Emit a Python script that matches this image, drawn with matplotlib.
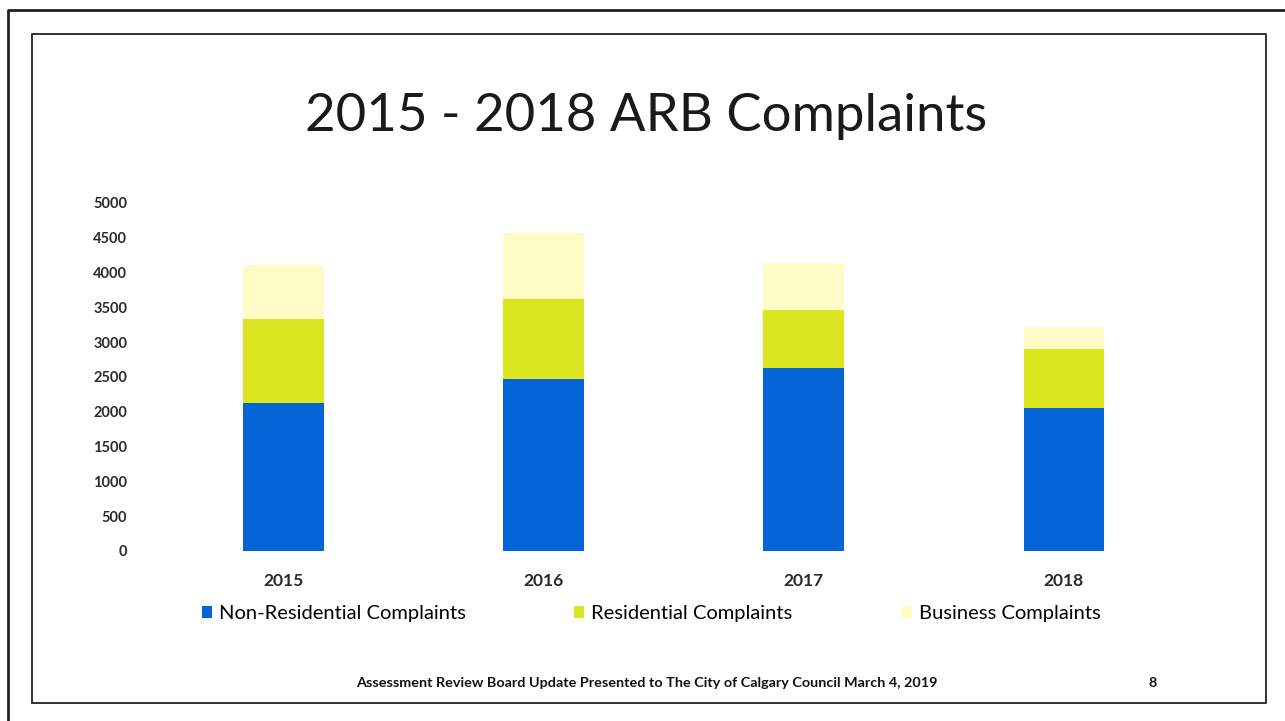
#!/usr/bin/env python3
"""Stacked bar chart: 2015 - 2018 ARB complaints by type."""

import matplotlib
matplotlib.use("Agg")
import matplotlib.pyplot as plt
from matplotlib.lines import Line2D
from matplotlib.patches import Patch
import numpy as np

years = ["2015", "2016", "2017", "2018"]
non_residential = [2120, 2475, 2630, 2050]
residential = [1220, 1145, 835, 850]
business = [770, 945, 680, 325]
series_names = ["Non-Residential Complaints", "Residential Complaints", "Business Complaints"]
yticks = [0, 500, 1000, 1500, 2000, 2500, 3000, 3500, 4000, 4500, 5000]

colors = ["#0565d6", "#dce620", "#fffcc8"]

plt.rcParams["font.family"] = ["Lato", "DejaVu Sans"]

W, H = 1285, 721
fig = plt.figure(figsize=(W / 100, H / 100), dpi=100)

# slide frames (outer scan border + inner slide border)
fig.add_artist(Line2D([8 / W, 8 / W, 1.0], [0.0, 1 - 10 / H, 1 - 10 / H],
                      transform=fig.transFigure, color="#222222", lw=2.0))
fig.add_artist(Line2D([32 / W, 32 / W, 1266 / W, 1266 / W, 32 / W],
                      [1 - 703 / H, 1 - 34 / H, 1 - 34 / H, 1 - 703 / H, 1 - 703 / H],
                      transform=fig.transFigure, color="#333333", lw=1.4))

ax = fig.add_axes([153.5 / W, 1 - 551 / H, (1194 - 153.5) / W, (551 - 203) / H])
x = np.arange(len(years))
bw = 0.31
bottom = np.zeros(len(years))
for vals, col, name in zip([non_residential, residential, business], colors, series_names):
    ax.bar(x, vals, bw, bottom=bottom, color=col, label=name)
    bottom += np.array(vals)

ax.set_xlim(-0.5, 3.5)
ax.set_ylim(0, 5000)
ax.set_yticks(yticks)
ax.set_yticklabels([str(v) for v in yticks], fontsize=10.5, fontweight="bold", color="#2a2a2a")
ax.set_xticks(x)
ax.set_xticklabels(years, fontsize=12.5, fontweight="bold", color="#2a2a2a")
ax.tick_params(axis="y", length=0, pad=19)
ax.tick_params(axis="x", length=0, pad=16)
for s in ax.spines.values():
    s.set_visible(False)

fig.text(646 / W, 1 - 117 / H, "2015 - 2018 ARB Complaints", ha="center", va="center",
         fontsize=38, color="#1a1a1a")

handles = [Patch(facecolor=c, edgecolor="none") for c in colors]
fig.legend(handles, series_names, loc="center", bbox_to_anchor=(651 / W, 1 - 614 / H),
           ncol=3, frameon=False, fontsize=14.5, handlelength=0.5, handleheight=0.55,
           handletextpad=0.35, columnspacing=5.4)

fig.text(647 / W, 1 - 683 / H,
         "Assessment Review Board Update Presented to The City of Calgary Council March 4, 2019",
         ha="center", va="center", fontsize=10.4, fontweight="bold", color="#111111")
fig.text(1153 / W, 1 - 683 / H, "8", ha="center", va="center", fontsize=10.4,
         fontweight="bold", color="#111111")

fig.savefig("out.png", dpi=100)
